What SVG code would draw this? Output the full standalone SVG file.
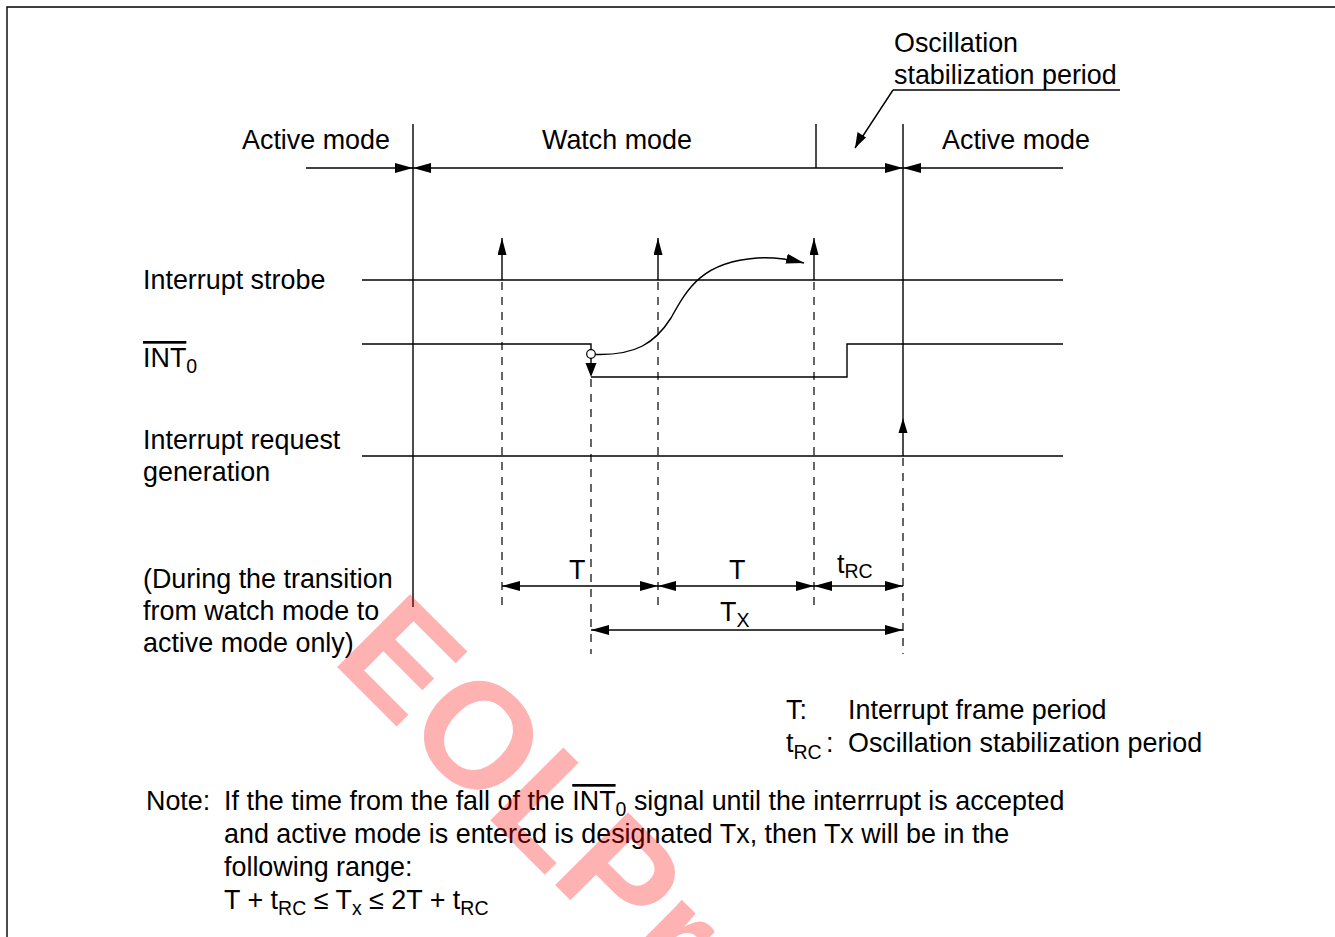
<svg xmlns="http://www.w3.org/2000/svg" width="1335" height="937" viewBox="0 0 1335 937">
<style>
text{font-family:"Liberation Sans",Arial,sans-serif;font-size:26.9px;fill:#000}
.sub{font-size:19.5px}
.ln{stroke:#000;stroke-width:1.4;fill:none}
.dash{stroke:#000;stroke-width:1.2;fill:none;stroke-dasharray:8 7}
.ol{text-decoration:overline}
</style>
<defs>
<marker id="ah" viewBox="0 0 18 10" refX="18" refY="5" markerWidth="18" markerHeight="10" markerUnits="userSpaceOnUse" orient="auto-start-reverse">
<path d="M0,0 L18,5 L0,10 z" fill="#000"/>
</marker>
<marker id="au" viewBox="0 0 17 9" refX="17" refY="4.5" markerWidth="17" markerHeight="9" markerUnits="userSpaceOnUse" orient="auto">
<path d="M0,0 L17,4.5 L0,9 z" fill="#000"/>
</marker>
</defs>
<rect width="1335" height="937" fill="#fff"/>
<g id="frame">
<path class="ln" d="M7,937 V7 H1335" stroke-width="1.6"/>
</g>
<g id="labels">
<text x="894" y="52">Oscillation</text>
<text x="894" y="84">stabilization period</text>
<text x="242" y="149">Active mode</text>
<text x="542" y="149">Watch mode</text>
<text x="942" y="149">Active mode</text>
<text x="143" y="289">Interrupt strobe</text>
<text x="143" y="367"><tspan class="ol">INT</tspan><tspan class="sub" dy="6">0</tspan></text>
<text x="143" y="449">Interrupt request</text>
<text x="143" y="481">generation</text>
<text x="143" y="588">(During the transition</text>
<text x="143" y="620">from watch mode to</text>
<text x="143" y="652">active mode only)</text>
<text x="569" y="579">T</text>
<text x="729" y="579">T</text>
<text x="837" y="573">t<tspan class="sub" dy="5">RC</tspan></text>
<text x="720" y="621">T<tspan class="sub" dy="6">X</tspan></text>
</g>
<g id="legend">
<text x="786" y="719">T:</text>
<text x="848" y="719">Interrupt frame period</text>
<text x="786" y="752">t<tspan class="sub" dy="7">RC</tspan></text>
<text x="826" y="752">:</text>
<text x="848" y="752">Oscillation stabilization period</text>
</g>
<g id="note">
<text x="146" y="810">Note:</text>
<text x="224" y="810">If the time from the fall of the <tspan class="ol">INT</tspan><tspan class="sub" dy="6">0</tspan><tspan dy="-6"> signal until the interrrupt is accepted</tspan></text>
<text x="224" y="843">and active mode is entered is designated Tx, then Tx will be in the</text>
<text x="224" y="876">following range:</text>
<text x="224" y="909">T + t<tspan class="sub" dy="6">RC</tspan><tspan dy="-6"> ≤ T</tspan><tspan class="sub" dy="6">x</tspan><tspan dy="-6"> ≤ 2T + t</tspan><tspan class="sub" dy="6">RC</tspan></text>
</g>
<g id="signals">
<path id="strobe" class="ln" d="M362,280 H1063"/>
<path id="int0" class="ln" d="M362,344 H591 V354 M591,377 H847 V344 H1063"/>
<path id="irq" class="ln" d="M362,456 H1063"/>
</g>
<g id="connectors">
<line class="ln" x1="413" y1="124" x2="413" y2="607"/>
<line class="ln" x1="903" y1="124" x2="903" y2="456"/>
<line class="ln" x1="816" y1="124" x2="816" y2="168"/>
<line class="ln" x1="306" y1="168" x2="413" y2="168" marker-end="url(#ah)"/>
<line class="ln" x1="413" y1="168" x2="903" y2="168" marker-start="url(#ah)" marker-end="url(#ah)"/>
<line class="ln" x1="1063" y1="168" x2="903" y2="168" marker-end="url(#ah)"/>
<path class="ln" d="M893,90 H1120 M893,90 L855,148" />
<path d="M855,148 L857.5,132 L866,137.5 z" fill="#000"/>
<line class="ln" x1="502" y1="280" x2="502" y2="238" marker-end="url(#au)"/>
<line class="ln" x1="658" y1="280" x2="658" y2="238" marker-end="url(#au)"/>
<line class="ln" x1="814" y1="280" x2="814" y2="238" marker-end="url(#au)"/>
<path d="M903,418 L898.5,433 L907.5,433 z" fill="#000"/>
<line class="dash" x1="502" y1="282" x2="502" y2="608"/>
<line class="dash" x1="658" y1="282" x2="658" y2="608"/>
<line class="dash" x1="814" y1="282" x2="814" y2="608"/>
<line class="dash" x1="591" y1="379" x2="591" y2="654"/>
<line class="dash" x1="903" y1="458" x2="903" y2="654"/>
<circle cx="591" cy="354" r="4.3" fill="#fff" stroke="#000" stroke-width="1.2"/>
<line class="ln" x1="591" y1="358" x2="591" y2="366"/>
<path d="M591,377 L585.5,363 L596.5,363 z" fill="#000"/>
<path class="ln" stroke-width="1.3" d="M595.5,354.5 C636,355.5 655,343 671,318 C688,287 703,262 757,258 C775,257 788,259 804,263" marker-end="url(#ah)"/>
<line class="ln" x1="502" y1="586" x2="658" y2="586" marker-start="url(#ah)" marker-end="url(#ah)"/>
<line class="ln" x1="658" y1="586" x2="814" y2="586" marker-start="url(#ah)" marker-end="url(#ah)"/>
<line class="ln" x1="814" y1="586" x2="903" y2="586" marker-start="url(#ah)" marker-end="url(#ah)"/>
<line class="ln" x1="591" y1="630" x2="903" y2="630" marker-start="url(#ah)" marker-end="url(#ah)"/>
</g>
<g id="watermark">
<text x="330" y="660" transform="rotate(45 330 660)" style="font-size:150px;font-weight:bold;fill:#ff0000;fill-opacity:0.3">EOLPr</text>
</g>
</svg>
